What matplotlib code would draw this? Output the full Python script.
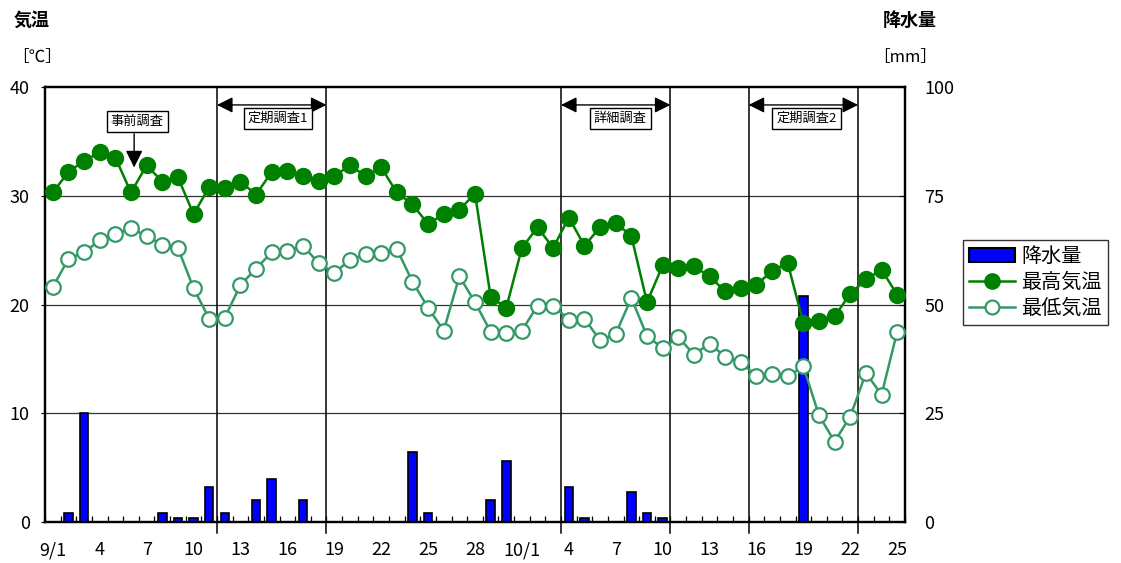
import numpy as np
import matplotlib
matplotlib.use("Agg")
import matplotlib.pyplot as plt
from matplotlib.lines import Line2D
from matplotlib.patches import Patch

plt.rcParams['font.family'] = ['Noto Sans CJK JP', 'DejaVu Sans']

# 9/1 .. 10/25 (55 days)
days = [f"9/{d}" for d in range(1, 31)] + [f"10/{d}" for d in range(1, 26)]

tmax = [30.3, 32.2, 33.2, 34.0, 33.5, 30.3, 32.8, 31.3, 31.7, 28.3,
        30.8, 30.7, 31.3, 30.1, 32.2, 32.3, 31.8, 31.4, 31.8, 32.8,
        31.8, 32.6, 30.3, 29.2, 27.4, 28.3, 28.7, 30.2, 20.7, 19.7,
        25.2, 27.1, 25.2, 28.0, 25.4, 27.1, 27.5, 26.3, 20.2, 23.6,
        23.4, 23.5, 22.6, 21.2, 21.5, 21.8, 23.1, 23.8, 18.3, 18.5,
        18.9, 21.0, 22.3, 23.2, 20.9]

tmin = [21.6, 24.2, 24.8, 25.9, 26.5, 27.0, 26.3, 25.5, 25.2, 21.5,
        18.7, 18.8, 21.8, 23.3, 24.8, 24.9, 25.4, 23.8, 22.9, 24.1,
        24.6, 24.7, 25.1, 22.1, 19.7, 17.6, 22.6, 20.2, 17.5, 17.4,
        17.6, 19.9, 19.9, 18.6, 18.7, 16.7, 17.3, 20.6, 17.1, 16.0,
        17.0, 15.4, 16.4, 15.2, 14.7, 13.4, 13.6, 13.4, 14.3, 9.8,
        7.4, 9.7, 13.7, 11.7, 17.5]

rain = [0, 2, 25, 0, 0, 0, 0, 2, 1, 1,
        8, 2, 0, 5, 10, 0, 5, 0, 0, 0,
        0, 0, 0, 16, 2, 0, 0, 0, 5, 14,
        0, 0, 0, 8, 1, 0, 0, 7, 2, 1,
        0, 0, 0, 0, 0, 0, 0, 0, 52, 0,
        0, 0, 0, 0, 0]

tick_labels = ["9/1", "4", "7", "10", "13", "16", "19", "22", "25", "28",
               "10/1", "4", "7", "10", "13", "16", "19", "22", "25"]

# period boundaries (index between days)
bounds = [10.5, 17.5, 32.5, 39.5, 44.5, 51.5]
periods = [("定期調査1", 10.5, 17.5, 14.4),
           ("詳細調査", 32.5, 39.5, 36.3),
           ("定期調査2", 44.5, 51.5, 48.2)]

x = np.arange(len(days))

fig = plt.figure(figsize=(11.21, 5.63), dpi=100)
ax2 = fig.add_axes([45/1121, 1-522/563, 860/1121, 435/563])
ax = ax2.twinx()

# rain on the lower axes, temperatures on top
ax2.set_zorder(1)
ax.set_zorder(2)
ax.patch.set_visible(False)

ax2.bar(x, rain, width=0.55, color='#0000FF', edgecolor='black', linewidth=1.2, zorder=3)
ax2.set_ylim(0, 100)
ax2.set_yticks([0, 25, 50, 75, 100])
for v in [25, 50, 75]:
    ax2.axhline(v, color='#333333', lw=0.9, zorder=1)
for b in bounds:
    ax2.axvline(b, ymin=-0.025, ymax=1, color='black', lw=1.1, zorder=2, clip_on=False)

ax.plot(x, tmin, color='#339966', lw=1.8, marker='o', ms=10.5,
        mfc='white', mec='#339966', mew=1.6, zorder=3)
ax.plot(x, tmax, color='#008000', lw=1.8, marker='o', ms=11.5,
        mfc='#008000', mec='#008000', zorder=4)
ax.set_ylim(0, 40)
ax2.set_xlim(-0.5, len(days) - 0.5)

# left axis for temperature, right axis for rain
ax.yaxis.tick_left()
ax2.yaxis.tick_right()
ax.set_yticks([0, 10, 20, 30, 40])
ax.tick_params(axis='y', direction='out', length=3, pad=8, labelsize=13)
ax2.tick_params(axis='y', direction='in', length=4, pad=14, labelsize=13)

ax2.set_xticks(x[::3])
ax2.set_xticklabels(tick_labels)
ax2.set_xticks(np.arange(-0.5, len(days)), minor=True)
ax2.tick_params(axis='x', which='major', length=0, pad=14, labelsize=13)
ax2.tick_params(axis='x', which='minor', direction='in', length=4, width=0.9)

for a in (ax, ax2):
    for s in a.spines.values():
        s.set_linewidth(1.6)
        s.set_color('black')

# survey period arrows
for name, x0, x1, xc in periods:
    ax.annotate('', xy=(x0, 38.35), xytext=(x1, 38.35),
                arrowprops=dict(arrowstyle='<|-|>', color='black', lw=1.0,
                                mutation_scale=24, shrinkA=0, shrinkB=0),
                zorder=6)
    ax.text(xc, 37.1, name, ha='center', va='center', fontsize=9.5, zorder=7,
            bbox=dict(boxstyle='square,pad=0.3', fc='white', ec='black', lw=1.0))

ax.annotate('', xy=(5.2, 32.6), xytext=(5.2, 35.7),
            arrowprops=dict(arrowstyle='-|>', color='black', lw=1.0,
                            mutation_scale=26, shrinkA=0, shrinkB=0), zorder=6)
ax.text(5.4, 36.8, "事前調査", ha='center', va='center', fontsize=9.5, zorder=7,
        bbox=dict(boxstyle='square,pad=0.3', fc='white', ec='black', lw=1.0))

# axis titles
fig.text(14/1121, 1-20/563, "気温", ha='left', va='center', fontsize=13, weight='bold')
fig.text(12/1121, 1-58/563, "［℃］", ha='left', va='center', fontsize=12)
fig.text(937/1121, 1-20/563, "降水量", ha='right', va='center', fontsize=13, weight='bold')
fig.text(937/1121, 1-58/563, "［mm］", ha='right', va='center', fontsize=12)

handles = [Patch(facecolor='#0000FF', edgecolor='black', linewidth=1.5),
           Line2D([], [], color='#008000', lw=1.8, marker='o', ms=11, mfc='#008000', mec='#008000'),
           Line2D([], [], color='#339966', lw=1.8, marker='o', ms=10, mfc='white', mec='#339966', mew=1.6)]
leg = fig.legend(handles, ["降水量", "最高気温", "最低気温"],
                 loc='upper left', bbox_to_anchor=(963/1121, 1-240/563),
                 fontsize=14.5, frameon=True, fancybox=False, edgecolor='black',
                 handlelength=2.3, handletextpad=0.3, borderpad=0.3, labelspacing=0.25,
                 borderaxespad=0)
leg.get_frame().set_linewidth(1.0)

fig.savefig("out.png", dpi=100)
